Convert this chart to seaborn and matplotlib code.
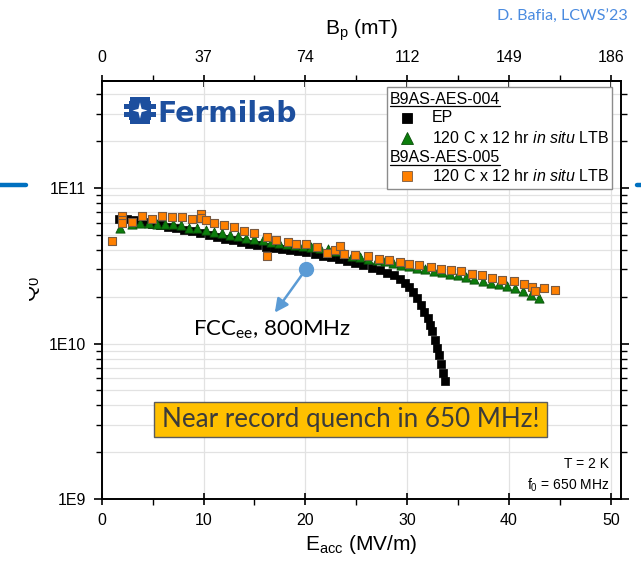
import numpy as np
import pandas as pd
import matplotlib
matplotlib.use("Agg")
import matplotlib.pyplot as plt
import matplotlib.ticker as mticker
from matplotlib.patches import Rectangle, Polygon
from matplotlib.lines import Line2D
from matplotlib.transforms import Bbox
import seaborn as sns

# ---------------- data ----------------
# B9AS-AES-004, electropolished baseline
eacc_ep = [1.7, 2.5, 3.3, 4.1, 4.9, 5.7, 6.5, 7.3, 8.1, 8.9, 9.7, 10.5, 11.3, 12.1,
           12.9, 13.7, 14.5, 15.3, 16.1, 16.9, 17.7, 18.5, 19.3, 20.1, 20.9, 21.7,
           22.5, 23.3, 24.1, 24.9, 25.7, 26.5, 27.3, 28.0, 28.7, 29.3, 29.8, 30.2,
           30.6, 31.0, 31.4, 31.7, 32.0, 32.2, 32.4, 32.7, 32.9, 33.1, 33.3, 33.5, 33.7]
q0_ep = [6.3e10, 6.35e10, 6.2e10, 6.05e10, 5.9e10, 5.8e10, 5.65e10, 5.55e10, 5.4e10,
         5.3e10, 5.15e10, 5.0e10, 4.85e10, 4.72e10, 4.6e10, 4.48e10, 4.38e10, 4.3e10,
         4.2e10, 4.12e10, 4.04e10, 3.97e10, 3.92e10, 3.87e10, 3.78e10, 3.68e10,
         3.58e10, 3.48e10, 3.40e10, 3.30e10, 3.18e10, 3.06e10, 2.96e10, 2.86e10,
         2.74e10, 2.6e10, 2.46e10, 2.3e10, 2.14e10, 1.96e10, 1.76e10, 1.6e10,
         1.45e10, 1.32e10, 1.2e10, 1.05e10, 9.3e9, 8.4e9, 7.4e9, 6.5e9, 5.7e9]

# B9AS-AES-004, 120 C x 12 hr in situ low-temperature bake
eacc_ltb4 = [1.8, 3.0, 3.8, 4.6, 5.4, 6.2, 7.0, 7.8, 8.6, 9.4, 10.2, 11.0, 11.8, 12.6,
             13.4, 14.2, 15.0, 15.8, 16.6, 17.4, 18.2, 19.0, 19.8, 20.6, 21.4, 22.2,
             23.0, 23.8, 24.6, 25.4, 26.2, 27.0, 27.8, 28.6, 29.4, 30.2, 31.0, 31.8,
             32.6, 33.4, 34.2, 35.0, 35.8, 36.6, 37.4, 38.2, 39.0, 39.8, 40.6, 41.4,
             42.2, 42.9]
q0_ltb4 = [5.5e10, 5.9e10, 5.95e10, 5.95e10, 5.9e10, 5.88e10, 5.85e10, 5.75e10, 5.55e10,
           5.5e10, 5.35e10, 5.22e10, 5.12e10, 5.02e10, 4.92e10, 4.8e10, 4.68e10, 4.6e10,
           4.52e10, 4.45e10, 4.38e10, 4.3e10, 4.22e10, 4.16e10, 4.1e10, 4.05e10,
           3.92e10, 3.82e10, 3.68e10, 3.58e10, 3.5e10, 3.44e10, 3.38e10, 3.3e10,
           3.22e10, 3.15e10, 3.08e10, 3.0e10, 2.94e10, 2.88e10, 2.8e10, 2.74e10,
           2.67e10, 2.6e10, 2.53e10, 2.46e10, 2.4e10, 2.33e10, 2.26e10, 2.18e10,
           2.06e10, 1.95e10]

# B9AS-AES-005, 120 C x 12 hr in situ low-temperature bake
eacc_ltb5 = [1.06, 1.95, 1.95, 1.95, 2.94, 3.94, 4.93, 5.92, 6.91, 7.9, 8.9, 9.72, 9.72,
             10.2, 11.05, 12.0, 13.0, 14.0, 15.0, 16.2, 16.2, 17.1, 18.3, 19.1, 20.1,
             21.1, 22.1, 22.9, 23.4, 23.8, 24.9, 26.2, 27.2, 28.2, 29.3, 30.2, 31.2,
             32.3, 33.3, 34.3, 35.3, 36.4, 37.3, 38.3, 39.3, 40.5, 41.5, 42.3, 42.6,
             43.4, 44.5]
q0_ltb5 = [4.57e10, 6.64e10, 6.22e10, 5.93e10, 6.01e10, 6.64e10, 6.28e10, 6.64e10,
           6.53e10, 6.47e10, 6.31e10, 6.76e10, 6.45e10, 6.22e10, 6.0e10, 5.78e10,
           5.58e10, 5.32e10, 5.17e10, 4.87e10, 3.67e10, 4.65e10, 4.49e10, 4.38e10,
           4.38e10, 4.17e10, 3.8e10, 4.0e10, 4.25e10, 3.79e10, 3.72e10, 3.64e10,
           3.52e10, 3.43e10, 3.33e10, 3.25e10, 3.22e10, 3.11e10, 3.03e10, 2.96e10,
           2.92e10, 2.82e10, 2.75e10, 2.62e10, 2.57e10, 2.52e10, 2.4e10, 2.32e10,
           2.18e10, 2.28e10, 2.2e10]

# axis ticks
eacc_ticks = [0, 10, 20, 30, 40, 50]
q0_ticks = [1e9, 1e10, 1e11]
q0_tick_labels = ["1E9", "1E10", "1E11"]
bp_per_eacc = 3.72  # mT per MV/m
bp_ticks = [0, 37.2, 74.4, 111.6, 148.8, 186.0]
bp_tick_labels = ["0", "37", "74", "112", "149", "186"]

# FCC-ee operating point (800 MHz)
fcc_eacc, fcc_q0 = 20.1, 3.03e10
fcc_arrow_eacc, fcc_arrow_q0 = 17.0, 1.58e10

# ---------------- style ----------------
sns.set_theme(style="ticks")
plt.rcParams["font.family"] = ["Liberation Sans", "DejaVu Sans"]
plt.rcParams["mathtext.fontset"] = "custom"
plt.rcParams["mathtext.rm"] = "Liberation Sans"
plt.rcParams["mathtext.it"] = "Liberation Sans:italic"
for key in ("text.color", "axes.labelcolor", "xtick.color", "ytick.color", "axes.edgecolor"):
    plt.rcParams[key] = "black"

W, H = 641, 562
fig = plt.figure(figsize=(W / 100, H / 100), dpi=100)
fig.patch.set_facecolor("white")

AX_L, AX_R, AX_T, AX_B = 101.7, 621.0, 80.7, 499.0
ax = fig.add_axes([AX_L / W, 1 - AX_B / H, (AX_R - AX_L) / W, (AX_B - AX_T) / H])


def axfrac(px, py):
    return (px - AX_L) / (AX_R - AX_L), (AX_B - py) / (AX_B - AX_T)


df_ep = pd.DataFrame({"Eacc": eacc_ep, "Q0": q0_ep})
df_ltb4 = pd.DataFrame({"Eacc": eacc_ltb4, "Q0": q0_ltb4})
df_ltb5 = pd.DataFrame({"Eacc": eacc_ltb5, "Q0": q0_ltb5})

ep_style = dict(marker="s", color="black", edgecolor="black", s=34, linewidth=0.5)
ltb4_style = dict(marker="^", color="#0c7d0c", edgecolor="#0a4f0a", s=44, linewidth=0.6)
ltb5_style = dict(marker="s", color="#ff8000", edgecolor="#7a5a40", s=36, linewidth=0.8)

sns.scatterplot(data=df_ep, x="Eacc", y="Q0", ax=ax, legend=False, zorder=3, **ep_style)
sns.scatterplot(data=df_ltb4, x="Eacc", y="Q0", ax=ax, legend=False, zorder=4, **ltb4_style)
sns.scatterplot(data=df_ltb5, x="Eacc", y="Q0", ax=ax, legend=False, zorder=5, **ltb5_style)

ax.set_yscale("log")
ax.set_xlim(0, 51)
ax.set_ylim(1e9, 4.9e11)
ax.set_xticks(eacc_ticks)
ax.xaxis.set_minor_locator(mticker.MultipleLocator(5))
ax.set_yticks(q0_ticks, q0_tick_labels)
ax.yaxis.set_minor_locator(mticker.LogLocator(base=10, subs=np.arange(2, 10)))
ax.yaxis.set_minor_formatter(mticker.NullFormatter())

ax.tick_params(axis="x", which="major", direction="inout", length=9, width=1.2,
               labelsize=11.5, pad=5.5)
ax.tick_params(axis="x", which="minor", direction="out", length=4, width=1.0)
ax.tick_params(axis="y", which="major", direction="out", length=6, width=1.2,
               right=True, labelsize=11.5, pad=5.5)
ax.tick_params(axis="y", which="minor", direction="out", length=4, width=1.0, right=True)
for sp in ax.spines.values():
    sp.set_linewidth(1.4)
    sp.set_color("black")

ax.grid(True, which="major", axis="x", color="#e2e2e2", lw=0.9)
ax.grid(True, which="both", axis="y", color="#e2e2e2", lw=0.9)
ax.set_axisbelow(True)

ax.set_xlabel("E$_{\\mathregular{acc}}$ (MV/m)", fontsize=15, labelpad=4)
ax.set_ylabel("")

# surface peak magnetic field on the top axis
sec = ax.secondary_xaxis("top", functions=(lambda e: e * bp_per_eacc,
                                           lambda b: b / bp_per_eacc))
sec.set_xticks(bp_ticks, bp_tick_labels)
sec.xaxis.set_minor_locator(mticker.MultipleLocator(bp_per_eacc * 5))
sec.tick_params(axis="x", which="major", direction="inout", length=9, width=1.2,
                labelsize=11.5, pad=7)
sec.tick_params(axis="x", which="minor", direction="out", length=4, width=1.0)
sec.spines["top"].set_linewidth(1.4)
sec.set_xlabel("B$_{\\mathregular{p}}$ (mT)", fontsize=15, labelpad=11)

# y label, partly hidden behind the slide margin
ylab = fig.text(31 / W, 1 - 289 / H, "Q$_{\\mathregular{0}}$", rotation=90,
                ha="center", va="center", fontsize=15)
ylab.set_clip_box(Bbox.from_extents(29, 0, W, H))
ylab.set_clip_on(True)

# ---------------- legend ----------------
lx0, ly0 = axfrac(387, 189)
lx1, ly1 = axfrac(612, 87)
ax.add_patch(Rectangle((lx0, ly0), lx1 - lx0, ly1 - ly0, transform=ax.transAxes,
                       facecolor="white", edgecolor="#8c8c8c", lw=1.0, zorder=8))
leg_fs = 11.5
mark_x = axfrac(407, 0)[0]
text_x = axfrac(432, 0)[0]
head_x = axfrac(390, 0)[0]
rows = [
    ("head", "B9AS-AES-004", 99, None),
    ("item", "EP", 118, ep_style),
    ("item", "120 C x 12 hr $\\mathit{in\\ situ}$ LTB", 138, ltb4_style),
    ("head", "B9AS-AES-005", 158, None),
    ("item", "120 C x 12 hr $\\mathit{in\\ situ}$ LTB", 176, ltb5_style),
]
renderer = fig.canvas.get_renderer()
for kind, label, py, st in rows:
    yy = axfrac(0, py)[1]
    if kind == "head":
        t = ax.text(head_x, yy, label, transform=ax.transAxes, ha="left", va="center",
                    fontsize=leg_fs, zorder=9)
        bb = t.get_window_extent(renderer).transformed(ax.transAxes.inverted())
        uy = axfrac(0, py + 6.5)[1]
        ax.add_line(Line2D([bb.x0, bb.x1], [uy, uy], transform=ax.transAxes,
                           color="black", lw=0.9, zorder=9))
    else:
        msize = 7 if st["marker"] == "s" else 9
        ax.add_line(Line2D([mark_x], [yy], transform=ax.transAxes, marker=st["marker"],
                           markersize=msize, markerfacecolor=st["color"],
                           markeredgecolor=st["edgecolor"], markeredgewidth=0.6,
                           linestyle="none", zorder=9))
        ax.text(text_x, yy, label, transform=ax.transAxes, ha="left", va="center",
                fontsize=leg_fs, zorder=9)

# ---------------- annotations ----------------
ax.text(*axfrac(609, 464), "T = 2 K", transform=ax.transAxes, ha="right",
        va="center", fontsize=10)
ax.text(*axfrac(609, 485), "f$_{\\mathregular{0}}$ = 650 MHz", transform=ax.transAxes,
        ha="right", va="center", fontsize=10)

fcc_color = "#5b9bd5"
ax.annotate("", xy=(fcc_arrow_eacc, fcc_arrow_q0), xytext=(fcc_eacc, fcc_q0),
            arrowprops=dict(arrowstyle="-|>", color=fcc_color, lw=1.8,
                            mutation_scale=20, shrinkA=0, shrinkB=0), zorder=7)
ax.plot([fcc_eacc], [fcc_q0], marker="o", markersize=10, color=fcc_color,
        linestyle="none", zorder=7)
ax.text(*axfrac(272, 330), "FCC$_{\\mathregular{ee}}$, 800MHz", transform=ax.transAxes,
        ha="center", va="center", fontsize=16, family=["Lato", "DejaVu Sans"])

bx0, by0 = axfrac(154, 437)
bx1, by1 = axfrac(547, 402)
ax.add_patch(Rectangle((bx0, by0), bx1 - bx0, by1 - by0, transform=ax.transAxes,
                       facecolor="#ffc000", edgecolor="#5c5c5c", lw=1.0, zorder=8))
ax.text((bx0 + bx1) / 2, (by0 + by1) / 2, "Near record quench in 650 MHz!",
        transform=ax.transAxes, ha="center", va="center", fontsize=18.7,
        color="#3b3b3b", family=["Lato", "DejaVu Sans"], zorder=9)

# Fermilab logo mark and wordmark
fnal_blue = "#1d4f9e"
lax = fig.add_axes([124 / W, 1 - 124 / H, 32 / W, 27 / H])
lax.set_xlim(0, 30)
lax.set_ylim(0, 25)
lax.axis("off")
for (x0, y0, w, h) in [(6, 20.5, 18, 4.5), (6, 0, 18, 4.5), (0, 14, 8, 4.5), (0, 6.5, 8, 4.5),
                       (22, 14, 8, 4.5), (22, 6.5, 8, 4.5), (5, 4, 20, 17)]:
    lax.add_patch(Rectangle((x0, y0), w, h, facecolor=fnal_blue, edgecolor="none"))
star = [(15, 20), (16.5, 14), (22, 12.5), (16.5, 11), (15, 5), (13.5, 11),
        (8, 12.5), (13.5, 14)]
lax.add_patch(Polygon(star, closed=True, facecolor="white", edgecolor="none"))
fig.text(157 / W, 1 - 122 / H, "Fermilab", ha="left", va="baseline", fontsize=20.3,
         fontweight="bold", color=fnal_blue, family="DejaVu Sans")

# slide furniture
fig.text(628 / W, 1 - 17 / H, "D. Bafia, LCWS\u201923", ha="right", va="center",
         fontsize=11.6, color="#4a8be0", family=["Lato", "DejaVu Sans"])
fig.add_artist(Line2D([0, 26 / W], [1 - 185 / H] * 2, transform=fig.transFigure,
                      color="#0070c0", lw=3.2))
fig.add_artist(Line2D([637 / W, 1], [1 - 185 / H] * 2, transform=fig.transFigure,
                      color="#0070c0", lw=3.2))

fig.savefig("out.png", dpi=100)
